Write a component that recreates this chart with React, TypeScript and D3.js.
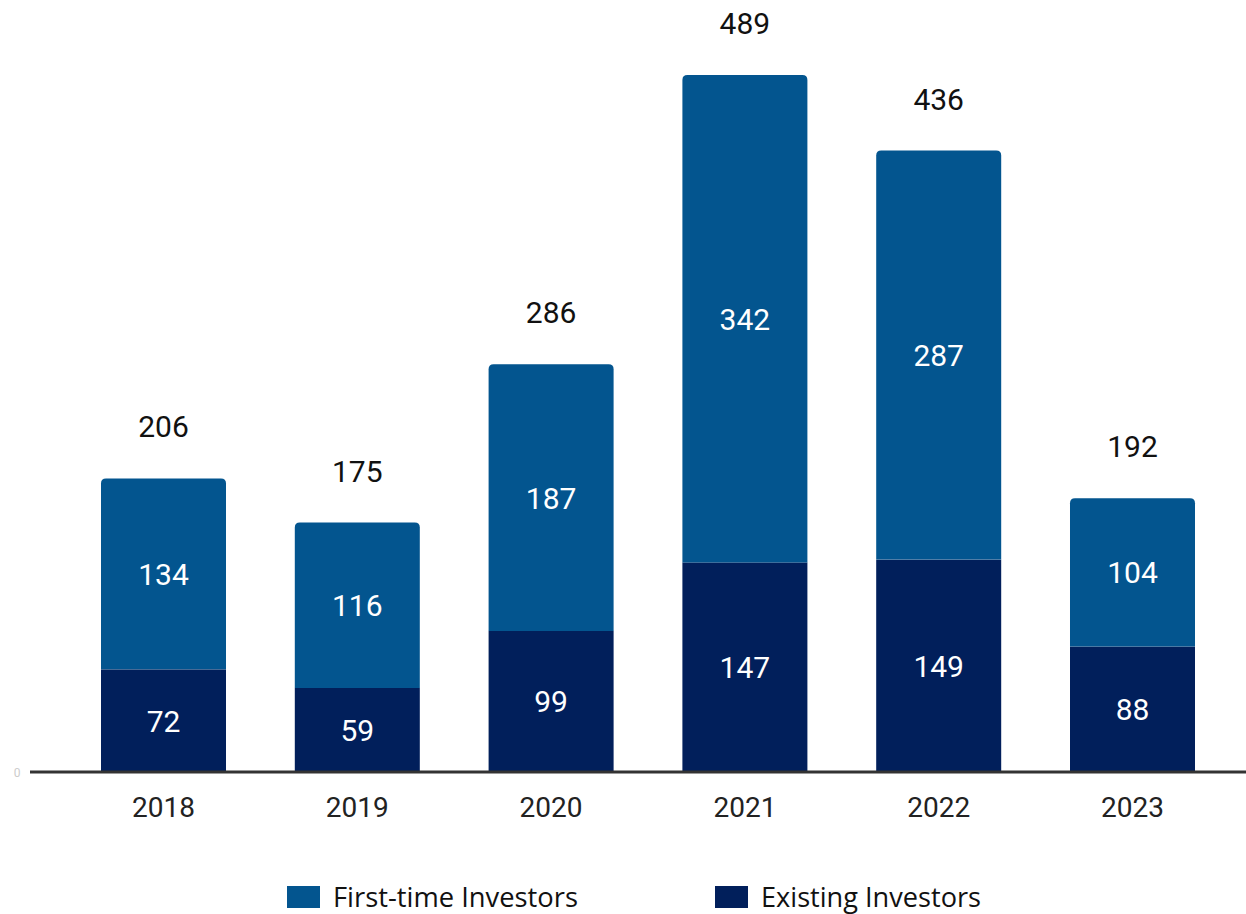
import React from "react";
import * as d3 from "d3";

const years = ["2018", "2019", "2020", "2021", "2022", "2023"];
const existing = [72, 59, 99, 147, 149, 88];
const firstTime = [134, 116, 187, 342, 287, 104];
const totals = [206, 175, 286, 489, 436, 192];
const seriesNames = ["First-time Investors", "Existing Investors"];
const colors = ["#03558f", "#011f5b"];

const W = 1246;
const H = 914;
const baseY = 772;

export default function App() {
  const x = d3
    .scaleBand<string>()
    .domain(years)
    .range([66.6, 1229.4])
    .paddingInner(0.355)
    .paddingOuter(0.1775);
  const y = d3.scaleLinear().domain([0, 489]).range([baseY, 75]);
  const bw = x.bandwidth();
  const r = 5;

  const topPath = (x0: number, y0: number, y1: number) => {
    const x1 = x0 + bw;
    return `M${x0},${y1} L${x0},${y0 + r} Q${x0},${y0} ${x0 + r},${y0} L${x1 - r},${y0} Q${x1},${y0} ${x1},${y0 + r} L${x1},${y1} Z`;
  };

  const font = "Roboto, 'Noto Sans', sans-serif";

  return (
    <svg width={W} height={H} style={{ position: "absolute", left: 0, top: 0, background: "#fff" }}>
      {years.map((yr, i) => {
        const x0 = x(yr)!;
        const cx = x0 + bw / 2;
        const e = existing[i];
        const f = firstTime[i];
        const yE = y(e);
        const yT = y(e + f);
        return (
          <g key={yr}>
            <rect x={x0} y={yE} width={bw} height={baseY - yE} fill={colors[1]} />
            <path d={topPath(x0, yT, yE)} fill={colors[0]} />
            <text x={cx} y={(yE + baseY) / 2 + 11} textAnchor="middle" fill="#fff" fontSize={30} fontFamily={font}>
              {e}
            </text>
            <text x={cx} y={(yT + yE) / 2 + 11} textAnchor="middle" fill="#fff" fontSize={30} fontFamily={font}>
              {f}
            </text>
            <text
              x={cx}
              y={y(totals[i]) - 41}
              textAnchor="middle"
              fill="#111"
              stroke="#fff"
              strokeWidth={5}
              strokeLinejoin="round"
              paintOrder="stroke"
              fontSize={30}
              fontFamily={font}
            >
              {totals[i]}
            </text>
            <text x={cx} y={817} textAnchor="middle" fill="#222" fontSize={28} fontFamily={font}>
              {yr}
            </text>
          </g>
        );
      })}
      <line x1={30} x2={W} y1={baseY} y2={baseY} stroke="#333" strokeWidth={3} />
      <text x={17} y={777} textAnchor="middle" fill="#ccc" fontSize={12} fontFamily={font}>
        0
      </text>
      {seriesNames.map((s, i) => {
        const lx = i === 0 ? 287 : 715;
        return (
          <g key={s}>
            <rect x={lx} y={886} width={33} height={22} fill={colors[i]} />
            <text
              x={lx + 46}
              y={907}
              fill="#111"
              fontSize={27}
              fontFamily="'Open Sans', 'Noto Sans', sans-serif"
              textLength={i === 0 ? 245 : 220}
              lengthAdjust="spacingAndGlyphs"
            >
              {s}
            </text>
          </g>
        );
      })}
    </svg>
  );
}
